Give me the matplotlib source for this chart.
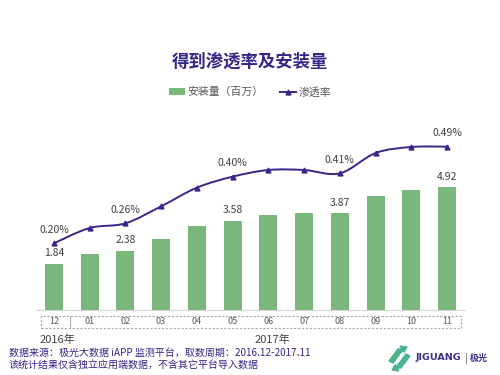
import matplotlib
matplotlib.use("Agg")
import matplotlib.pyplot as plt
import numpy as np
from matplotlib.path import Path
from matplotlib.patches import PathPatch, Rectangle, Patch, Polygon
from matplotlib.lines import Line2D

plt.rcParams['font.family'] = ['Noto Sans CJK SC', 'DejaVu Sans']

months = ['12', '01', '02', '03', '04', '05', '06', '07', '08', '09', '10', '11']
installs = [1.84, 2.25, 2.38, 2.84, 3.35, 3.58, 3.81, 3.90, 3.87, 4.56, 4.81, 4.92]
penetration = [0.20, 0.246, 0.26, 0.311, 0.367, 0.40, 0.42, 0.42, 0.41, 0.471, 0.489, 0.49]
install_labels = {0: '1.84', 2: '2.38', 5: '3.58', 8: '3.87', 11: '4.92'}
pen_labels = {0: '0.20%', 2: '0.26%', 5: '0.40%', 8: '0.41%', 11: '0.49%'}
years = [('2016年', 0), ('2017年', 6)]

title = '得到渗透率及安装量'
legend_bar = '安装量（百万）'
legend_line = '渗透率'
footer1 = '数据来源：极光大数据 iAPP 监测平台，取数周期：2016.12-2017.11'
footer2 = '该统计结果仅含独立应用端数据，不含其它平台导入数据'

green = '#79b77a'
purple = '#33278a'
txt = '#404040'

fig = plt.figure(figsize=(5, 3.75), dpi=100)
W, H = 500, 375
def fx(px): return px / W
def fy(py): return 1 - py / H

ax = fig.add_axes([fx(36), fy(310), fx(465) - fx(36), fy(110) - fy(310)])
x = np.arange(len(months))
ax.bar(x, installs, width=0.5, color=green, zorder=2)
ax.set_xlim(-0.5, len(months) - 0.5)
ax.set_ylim(0, 8)
for s in ['top', 'right', 'left']:
    ax.spines[s].set_visible(False)
ax.spines['bottom'].set_color('#d9d9d9')
ax.set_yticks([])
ax.set_xticks([])
for i, lab in install_labels.items():
    ax.text(i, installs[i] + 0.22, lab, ha='center', va='bottom', fontsize=7.5, color=txt)

ax2 = ax.twinx()
ax2.set_ylim(0, 0.6)
ax2.set_yticks([])
for s in ['top', 'right', 'left', 'bottom']:
    ax2.spines[s].set_visible(False)

# smooth curve through data points (Catmull-Rom -> Bezier)
pts = np.column_stack([x, penetration]).astype(float)
verts = [tuple(pts[0])]
codes = [Path.MOVETO]
n = len(pts)
for i in range(n - 1):
    p0 = pts[i - 1] if i > 0 else pts[i]
    p1 = pts[i]
    p2 = pts[i + 1]
    p3 = pts[i + 2] if i + 2 < n else pts[i + 1]
    c1 = p1 + (p2 - p0) / 6
    c2 = p2 - (p3 - p1) / 6
    verts += [tuple(c1), tuple(c2), tuple(p2)]
    codes += [Path.CURVE4] * 3
ax2.add_patch(PathPatch(Path(verts, codes), facecolor='none', edgecolor=purple, lw=1.4, zorder=3))
ax2.plot(x, penetration, linestyle='none', marker='^', ms=3.5, color=purple, zorder=4)
for i, lab in pen_labels.items():
    ax2.text(i, penetration[i] + 0.025, lab, ha='center', va='bottom', fontsize=7.5, color=txt)

# title
fig.text(0.5, fy(62), title, ha='center', va='center', fontsize=12.5, fontweight='bold', color=purple)

# legend
handles = [Patch(facecolor=green, edgecolor='none'),
           Line2D([0], [0], color=purple, lw=1.4, marker='^', ms=3.5)]
fig.legend(handles, [legend_bar, legend_line], loc='center', bbox_to_anchor=(0.5, fy(92)),
           ncol=2, frameon=False, fontsize=7.8, labelcolor='#595959', handlelength=1.5,
           handletextpad=0.2, columnspacing=1.5)

# dashed category box
fig.patches.append(Rectangle((fx(41), fy(327.5)), fx(461) - fx(41), fy(315.5) - fy(327.5),
                             transform=fig.transFigure, fill=False, edgecolor='#a6a6a6',
                             linestyle=(0, (2, 1.5)), lw=0.8))
fig.lines.append(Line2D([fx(70), fx(70)], [fy(326), fy(317)], transform=fig.transFigure,
                        color='#a6a6a6', lw=0.8))
for i, m in enumerate(months):
    xd = ax.transData.transform((i, 0))[0]
    fig.text(xd / fig.bbox.width, fy(321.5), m, ha='center', va='center', fontsize=6.5, color='#595959')
for lab, i in years:
    xd = ax.transData.transform((i - 0.4, 0))[0]
    fig.text(xd / fig.bbox.width, fy(340), lab, ha='left', va='center', fontsize=8, color=txt)

# footer
fig.text(fx(9), fy(353), footer1, ha='left', va='center', fontsize=7.2, color=purple, style='italic')
fig.text(fx(9), fy(364.5), footer2, ha='left', va='center', fontsize=7.2, color=purple, style='italic')

# logo
lg = '#4db38a'
fig.patches.append(Polygon([(fx(389), fy(361)), (fx(398), fy(349)), (fx(402), fy(349)),
                            (fx(400), fy(346)), (fx(407), fy(347)), (fx(404), fy(352)),
                            (fx(402), fy(351)), (fx(393), fy(363))],
                           closed=True, transform=fig.transFigure, color=lg))
fig.patches.append(Polygon([(fx(410), fy(356)), (fx(401), fy(368)), (fx(397), fy(368)),
                            (fx(399), fy(371)), (fx(392), fy(370)), (fx(395), fy(365)),
                            (fx(397), fy(366)), (fx(406), fy(354))],
                           closed=True, transform=fig.transFigure, color=lg))
fig.text(fx(416), fy(358), 'JIGUANG', ha='left', va='center', fontsize=6.8, fontweight='bold',
         color='#3b2f86', family='DejaVu Sans')
fig.lines.append(Line2D([fx(466), fx(466)], [fy(353), fy(363)], transform=fig.transFigure,
                        color='#8c8c8c', lw=0.7))
fig.text(fx(470), fy(358), '极光', ha='left', va='center', fontsize=6.5, fontweight='bold', color='#3b2f86')

fig.savefig('out.png', dpi=100, facecolor='white')
